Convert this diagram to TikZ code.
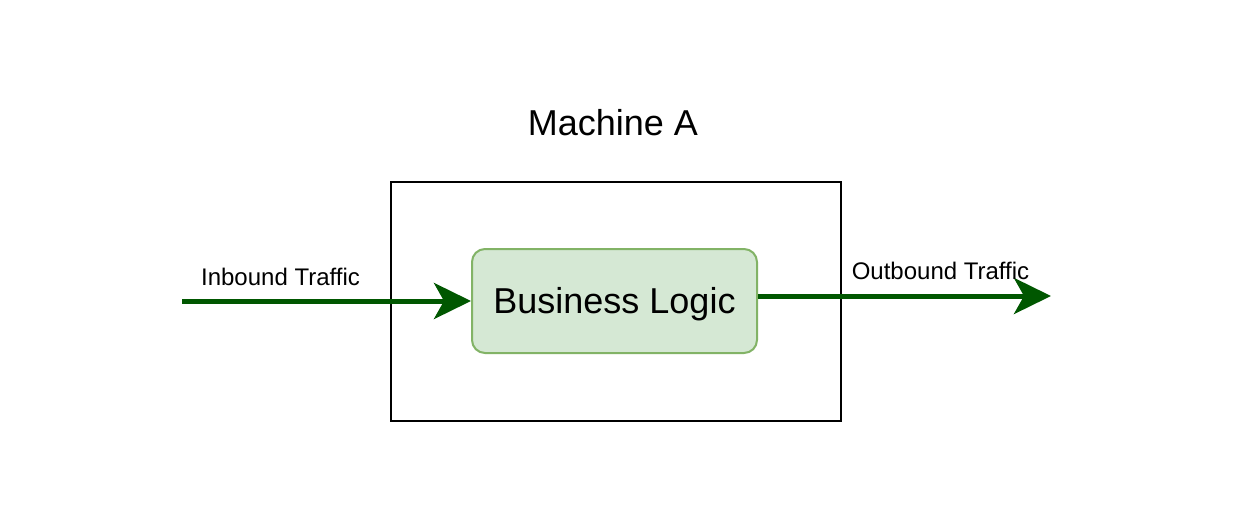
\documentclass[tikz,border=0pt]{standalone}
\usepackage{fontspec}
\setmainfont{Liberation Sans}
\usetikzlibrary{arrows.meta}
\definecolor{flowgreen}{HTML}{005700}
\definecolor{blfill}{HTML}{D5E8D4}
\definecolor{bldraw}{HTML}{82B366}
\tikzset{
  machinebox/.style={draw=black, line width=2pt, fill=none},
  logicbox/.style={draw=bldraw, fill=blfill, line width=2pt, rounded corners=13pt, minimum width=285pt, minimum height=104pt, inner sep=0pt, text height=32pt, text depth=8pt, font=\fontsize{36}{40}\selectfont},
  flow/.style={draw=flowgreen, line width=5pt, -{Stealth[length=37pt, width=36pt, inset=10pt, flowgreen]}},
  lbl/.style={inner sep=0pt, font=\fontsize{24}{28}\selectfont},
  title/.style={inner sep=0pt, font=\fontsize{36}{40}\selectfont}
}
\begin{document}
\begin{tikzpicture}[x=1pt, y=-1pt]
\useasboundingbox[fill=white] (0,0) rectangle (1236,516);
\node[machinebox, minimum width=450pt, minimum height=239pt, inner sep=0pt] (machine) at (616,301) {};
\node[title] (mtitle) at (613,123) {Machine A};
\node[logicbox] (bl) at (614.5,301) {Business Logic};
\coordinate (instart) at (182,301);
\coordinate (outend) at (1051,296);
\draw[flow] (instart) -- (bl.west);
\draw[flow] ([yshift=5pt]bl.east) -- (outend);
\node[lbl] (inlbl) at (280.5,277) {Inbound Traffic};
\node[lbl] (outlbl) at (940.5,271) {Outbound Traffic};
\end{tikzpicture}
\end{document}
